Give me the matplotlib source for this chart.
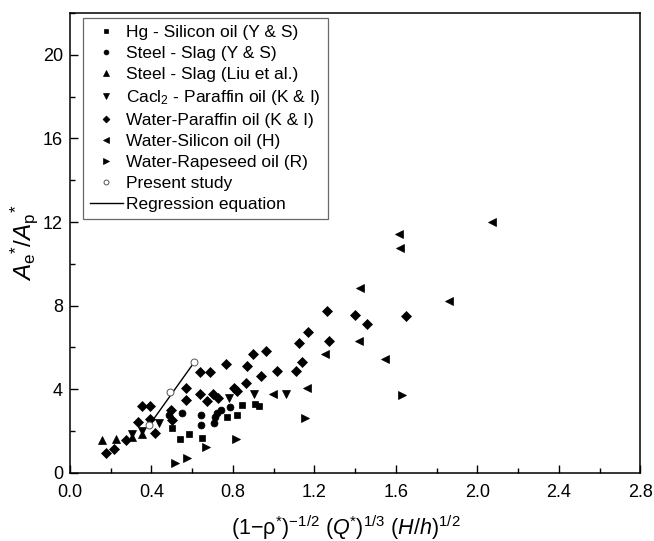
import numpy as np
import matplotlib
matplotlib.use('Agg')
from matplotlib import pyplot as plt
from matplotlib.ticker import MultipleLocator, FormatStrFormatter

plt.rcParams['font.family'] = ['Liberation Sans', 'DejaVu Sans']
plt.rcParams['mathtext.fontset'] = 'custom'
plt.rcParams['mathtext.rm'] = 'Liberation Sans'
plt.rcParams['mathtext.it'] = 'Liberation Sans:italic'
plt.rcParams['mathtext.bf'] = 'Liberation Sans:bold'

# data
hg_x = [0.500, 0.541, 0.585, 0.647, 0.770, 0.822, 0.844, 0.909, 0.930]
hg_y = [2.13, 1.60, 1.84, 1.65, 2.65, 2.76, 3.24, 3.29, 3.21]

steel_ys_x = [0.488, 0.549, 0.642, 0.642, 0.708, 0.713, 0.721, 0.740, 0.786]
steel_ys_y = [2.75, 2.84, 2.76, 2.29, 2.40, 2.65, 2.84, 3.00, 3.16]

steel_liu_x = [0.157, 0.224, 0.306, 0.352]
steel_liu_y = [1.57, 1.62, 1.70, 1.84]

cacl_x = [0.306, 0.352, 0.439, 0.783, 0.904, 1.061]
cacl_y = [1.84, 1.98, 2.38, 3.59, 3.79, 3.76]

wpar_x = [0.176, 0.216, 0.274, 0.334, 0.352, 0.393, 0.393, 0.416, 0.496, 0.500,
          0.569, 0.569, 0.640, 0.688, 0.640, 0.675, 0.701, 0.727, 0.766, 0.803,
          0.822, 0.864, 0.868, 0.900, 0.937, 0.963, 1.016, 1.108, 1.123, 1.140,
          1.170, 1.270, 1.264, 1.400, 1.458, 1.651]
wpar_y = [0.94, 1.12, 1.55, 2.42, 3.18, 3.18, 2.56, 1.92, 3.00, 2.55,
          4.08, 3.50, 4.84, 4.84, 3.79, 3.44, 3.79, 3.56, 5.20, 4.08,
          3.93, 4.28, 5.11, 5.70, 4.64, 5.84, 4.88, 4.88, 6.23, 5.31,
          6.73, 6.33, 7.73, 7.57, 7.10, 7.52]

wsil_x = [0.996, 1.163, 1.252, 1.417, 1.425, 1.546, 1.613, 1.618, 1.862, 2.072]
wsil_y = [3.79, 4.08, 5.69, 6.33, 8.84, 5.45, 11.41, 10.78, 8.24, 12.01]

wrape_x = [0.516, 0.577, 0.668, 0.816, 1.155, 1.630]
wrape_y = [0.45, 0.70, 1.25, 1.60, 2.64, 3.71]

present_x = [0.389, 0.493, 0.607]
present_y = [2.29, 3.88, 5.28]

reg_x = [0.39, 0.61]
reg_y = [2.29, 5.29]

series = [
    (hg_x, hg_y, 's', 5.0, 'Hg - Silicon oil (Y & S)'),
    (steel_ys_x, steel_ys_y, 'o', 5.0, 'Steel - Slag (Y & S)'),
    (steel_liu_x, steel_liu_y, '^', 5.5, 'Steel - Slag (Liu et al.)'),
    (cacl_x, cacl_y, 'v', 5.5, r'Cacl$_\mathregular{2}$ - Paraffin oil (K & I)'),
    (wpar_x, wpar_y, 'D', 5.0, 'Water-Paraffin oil (K & I)'),
    (wsil_x, wsil_y, '<', 5.5, 'Water-Silicon oil (H)'),
    (wrape_x, wrape_y, '>', 5.5, 'Water-Rapeseed oil (R)'),
]

fig = plt.figure(figsize=(6.54, 5.41), dpi=100)
ax = fig.add_axes([0.107, 0.126, 0.872, 0.850])

for x, y, m, ms, lab in series:
    ax.plot(x, y, linestyle='none', marker=m, ms=ms, color='black', mec='black',
            mew=0.5, label=lab)
ax.plot(present_x, present_y, linestyle='none', marker='o', ms=5, mfc='white',
        mec='#555555', mew=0.7, label='Present study', zorder=4)
ax.plot(reg_x, reg_y, color='black', lw=1.0, label='Regression equation', zorder=3)

ax.set_xlim(0, 2.8)
ax.set_ylim(0, 22)
ax.xaxis.set_major_locator(MultipleLocator(0.4))
ax.xaxis.set_minor_locator(MultipleLocator(0.2))
ax.xaxis.set_major_formatter(FormatStrFormatter('%.1f'))
ax.yaxis.set_major_locator(MultipleLocator(4))
ax.yaxis.set_minor_locator(MultipleLocator(2))
ax.tick_params(which='both', direction='in', labelsize=13, width=1.0)
ax.tick_params(which='major', length=6)
ax.tick_params(which='minor', length=3.5)
ax.tick_params(axis='x', which='major', pad=8)
ax.tick_params(axis='y', which='major', pad=5)
for sp in ax.spines.values():
    sp.set_linewidth(1.1)

ax.set_xlabel(r'$\mathregular{(1{-}\rho^{*})^{-1/2}\ (}Q\mathregular{^{*})^{1/3}\ (}H/h\mathregular{)^{1/2}}$',
              fontsize=15.5)
ax.xaxis.set_label_coords(0.483, -0.088)
ax.set_ylabel(r'$A_\mathregular{e}\mathregular{^{*}/}A_\mathregular{p}\mathregular{^{*}}$',
              fontsize=17.5, labelpad=2)

leg = ax.legend(loc='upper left', bbox_to_anchor=(0.023, 0.989), borderaxespad=0,
                fontsize=12.5, frameon=True, fancybox=False, edgecolor='#444444',
                handlelength=1.9, handletextpad=0.22, labelspacing=0.34,
                borderpad=0.38, markerscale=0.7)
leg.get_frame().set_linewidth(0.9)

fig.savefig('out.png', dpi=100)
